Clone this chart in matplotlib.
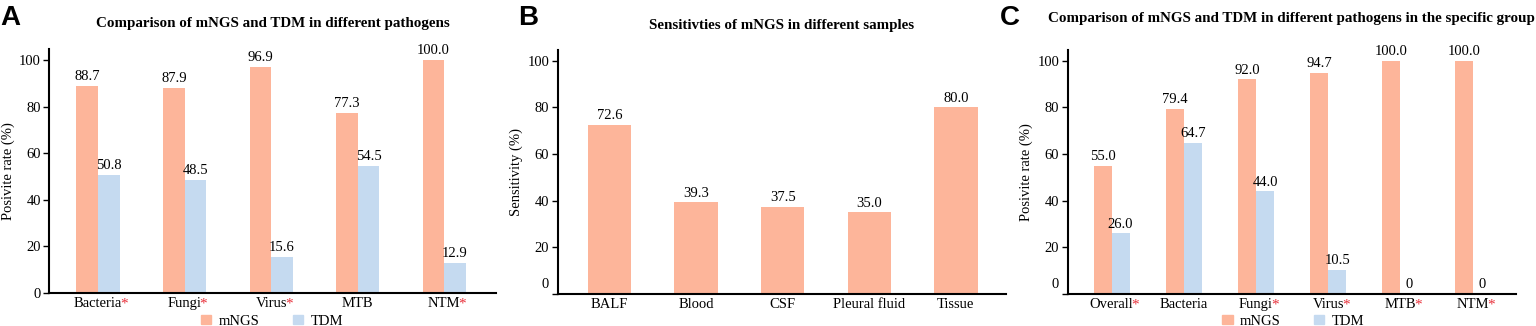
import numpy as np
import matplotlib.pyplot as plt
import matplotlib.transforms as mtransforms
from matplotlib.patches import Patch

plt.rcParams['font.family'] = ['Liberation Serif', 'DejaVu Serif']

# panel A
pathogens = ["Bacteria", "Fungi", "Virus", "MTB", "NTM"]
star_a = [True, True, True, False, True]
mngs_a = [88.7, 87.9, 96.9, 77.3, 100.0]
tdm_a = [50.8, 48.5, 15.6, 54.5, 12.9]

# panel B
samples = ["BALF", "Blood", "CSF", "Pleural fluid", "Tissue"]
sens_b = [72.6, 39.3, 37.5, 35.0, 80.0]

# panel C
groups_c = ["Overall", "Bacteria", "Fungi", "Virus", "MTB", "NTM"]
star_c = [True, False, True, True, True, True]
mngs_c = [55.0, 79.4, 92.0, 94.7, 100.0, 100.0]
tdm_c = [26.0, 64.7, 44.0, 10.5, 0.0, 0.0]

C_MNGS = "#fdb59a"
C_TDM = "#c5daf0"
FS = 10.5

fig = plt.figure(figsize=(15.36, 3.26), dpi=100)
axA = fig.add_axes([0.032, 0.101, 0.291, 0.749])
axB = fig.add_axes([0.363, 0.098, 0.292, 0.749])
axC = fig.add_axes([0.695, 0.098, 0.292, 0.749])


def fmt(v):
    return "0" if v == 0 else f"{v:.1f}"


def style(ax, ylabel, lift_zero=False):
    ax.set_ylim(0, 104.7)
    ax.set_yticks([0, 20, 40, 60, 80, 100])
    ax.spines[["top", "right"]].set_visible(False)
    ax.spines[["left", "bottom"]].set_linewidth(1.5)
    ax.tick_params(axis="x", length=0, labelsize=FS, pad=3)
    ax.tick_params(axis="y", length=4, width=1, labelsize=FS, pad=2)
    ax.set_ylabel(ylabel, fontsize=FS, labelpad=3)
    if lift_zero:
        lab = ax.get_yticklabels()[0]
        lab.set_transform(lab.get_transform() + mtransforms.ScaledTranslation(0, 0.11, fig.dpi_scale_trans))


def stars(ax, flags):
    fig.canvas.draw()
    for lab, f in zip(ax.get_xticklabels(), flags):
        if f:
            ax.annotate("*", xy=(1, 1), xycoords=lab, xytext=(-1.5, 0), textcoords="offset points",
                        color="#e8303a", ha="left", va="top", fontsize=FS + 0.5,
                        annotation_clip=False)


def grouped(ax, cats, m, t, width, title, pad):
    x = np.arange(len(cats))
    b1 = ax.bar(x - width / 2, m, width, color=C_MNGS)
    b2 = ax.bar(x + width / 2, t, width, color=C_TDM)
    ax.bar_label(b1, labels=[fmt(v) for v in m], padding=2, fontsize=FS)
    ax.bar_label(b2, labels=[fmt(v) for v in t], padding=2, fontsize=FS)
    ax.set_xticks(x)
    ax.set_xticklabels(cats)
    ax.set_title(title, fontsize=10.8, fontweight="bold", pad=pad)


# A
grouped(axA, pathogens, mngs_a, tdm_a, 0.25,
        "Comparison of mNGS and TDM in different pathogens", 16)
axA.set_xlim(-0.566, 4.6)
style(axA, "Posivite rate (%)")

# B
xb = np.arange(len(samples))
bb = axB.bar(xb, sens_b, 0.5, color=C_MNGS)
axB.bar_label(bb, labels=[fmt(v) for v in sens_b], padding=2, fontsize=FS)
axB.set_xticks(xb)
axB.set_xticklabels(samples)
axB.set_xlim(-0.6, 4.58)
axB.set_title("Sensitivties of mNGS in different samples", fontsize=10.8, fontweight="bold", pad=15.3)
style(axB, "Sensitivity (%)", lift_zero=True)

# C
grouped(axC, groups_c, mngs_c, tdm_c, 0.25,
        "Comparison of mNGS and TDM in different pathogens in the specific group", 20.4)
axC.set_xlim(-0.61, 5.6)
style(axC, "Posivite rate (%)", lift_zero=True)

for ax, flags in [(axA, star_a), (axC, star_c)]:
    stars(ax, flags)

handles = [Patch(color=C_MNGS, label="mNGS"), Patch(color=C_TDM, label="TDM")]
for xc in [0.177, 0.842]:
    fig.legend(handles=handles, loc="center", bbox_to_anchor=(xc, 0.014), ncol=2,
               frameon=False, fontsize=FS, handlelength=0.7, handleheight=0.6,
               columnspacing=2.3, handletextpad=0.5)

for xl, letter in [(0.0, "A"), (0.337, "B"), (0.651, "C")]:
    fig.text(xl, 0.985, letter, fontsize=20, fontweight="bold",
             family=["Liberation Sans", "DejaVu Sans"], ha="left", va="top")

fig.savefig("out.png", dpi=100)
